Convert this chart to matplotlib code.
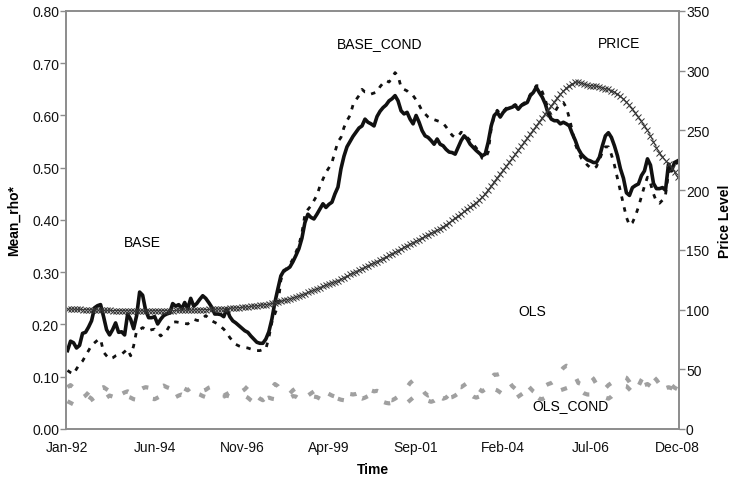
import matplotlib
matplotlib.use("Agg")
import matplotlib.pyplot as plt
import numpy as np

plt.rcParams['font.family'] = ['Liberation Sans', 'DejaVu Sans']

# monthly series, Jan-92 .. Dec-08
tick_labels = ["Jan-92", "Jun-94", "Nov-96", "Apr-99", "Sep-01", "Feb-04", "Jul-06", "Dec-08"]

base = [
    0.150, 0.168, 0.165, 0.155, 0.160, 0.183, 0.185, 0.195, 0.207, 0.232, 0.236, 0.238,
    0.215, 0.190, 0.180, 0.190, 0.203, 0.185, 0.186, 0.180, 0.220, 0.210, 0.192, 0.217,
    0.262, 0.256, 0.227, 0.213, 0.213, 0.215, 0.201, 0.210, 0.217, 0.220, 0.222, 0.240,
    0.235, 0.238, 0.230, 0.242, 0.230, 0.250, 0.235, 0.240, 0.248, 0.255, 0.250, 0.242,
    0.233, 0.220, 0.220, 0.219, 0.215, 0.230, 0.215, 0.207, 0.203, 0.198, 0.193, 0.188,
    0.185, 0.178, 0.172, 0.166, 0.164, 0.164, 0.172, 0.186, 0.210, 0.242, 0.268, 0.293,
    0.303, 0.306, 0.310, 0.320, 0.332, 0.345, 0.365, 0.395, 0.411, 0.405, 0.402, 0.411,
    0.421, 0.431, 0.424, 0.430, 0.434, 0.450, 0.463, 0.498, 0.522, 0.540, 0.550, 0.560,
    0.568, 0.576, 0.580, 0.593, 0.587, 0.584, 0.580, 0.598, 0.608, 0.615, 0.620, 0.628,
    0.632, 0.638, 0.628, 0.609, 0.603, 0.606, 0.593, 0.584, 0.600, 0.587, 0.571, 0.561,
    0.558, 0.552, 0.545, 0.555, 0.545, 0.542, 0.535, 0.530, 0.529, 0.526, 0.539, 0.552,
    0.561, 0.555, 0.545, 0.539, 0.533, 0.528, 0.523, 0.526, 0.549, 0.580, 0.600, 0.606,
    0.597, 0.606, 0.612, 0.614, 0.616, 0.619, 0.612, 0.619, 0.622, 0.625, 0.638, 0.644,
    0.654, 0.644, 0.635, 0.622, 0.603, 0.593, 0.590, 0.590, 0.584, 0.587, 0.584, 0.580,
    0.565, 0.552, 0.536, 0.526, 0.520, 0.515, 0.513, 0.510, 0.510, 0.520, 0.542, 0.561,
    0.567, 0.558, 0.542, 0.523, 0.498, 0.480, 0.452, 0.447, 0.462, 0.466, 0.469, 0.485,
    0.494, 0.517, 0.505, 0.470, 0.460, 0.460, 0.462, 0.457, 0.507, 0.494, 0.510, 0.513,
]

base_cond = [
    0.112, 0.108, 0.105, 0.115, 0.124, 0.130, 0.140, 0.150, 0.160, 0.165, 0.170, 0.172,
    0.147, 0.140, 0.134, 0.136, 0.140, 0.142, 0.143, 0.148, 0.153, 0.140, 0.159, 0.188,
    0.190, 0.194, 0.191, 0.188, 0.190, 0.191, 0.185, 0.178, 0.183, 0.188, 0.198, 0.204,
    0.205, 0.204, 0.203, 0.202, 0.201, 0.206, 0.210, 0.208, 0.207, 0.212, 0.217, 0.212,
    0.207, 0.204, 0.201, 0.196, 0.191, 0.184, 0.175, 0.168, 0.162, 0.159, 0.157, 0.156,
    0.155, 0.153, 0.152, 0.150, 0.150, 0.152, 0.153, 0.175, 0.204, 0.220, 0.236, 0.285,
    0.300, 0.308, 0.315, 0.325, 0.338, 0.352, 0.375, 0.410, 0.420, 0.427, 0.437, 0.447,
    0.465, 0.478, 0.491, 0.500, 0.510, 0.530, 0.550, 0.558, 0.577, 0.590, 0.600, 0.620,
    0.630, 0.638, 0.650, 0.645, 0.645, 0.641, 0.643, 0.645, 0.655, 0.662, 0.667, 0.664,
    0.672, 0.682, 0.676, 0.654, 0.650, 0.647, 0.641, 0.638, 0.630, 0.620, 0.609, 0.603,
    0.597, 0.593, 0.592, 0.590, 0.588, 0.585, 0.578, 0.570, 0.562, 0.558, 0.560, 0.568,
    0.565, 0.558, 0.552, 0.545, 0.538, 0.530, 0.518, 0.517, 0.530, 0.575, 0.600, 0.610,
    0.603, 0.608, 0.614, 0.616, 0.618, 0.621, 0.615, 0.620, 0.624, 0.628, 0.640, 0.647,
    0.657, 0.657, 0.645, 0.630, 0.610, 0.600, 0.605, 0.615, 0.622, 0.625, 0.615, 0.595,
    0.570, 0.545, 0.530, 0.518, 0.512, 0.505, 0.500, 0.498, 0.502, 0.515, 0.530, 0.540,
    0.540, 0.525, 0.505, 0.480, 0.455, 0.430, 0.405, 0.390, 0.395, 0.408, 0.425, 0.445,
    0.465, 0.482, 0.470, 0.450, 0.435, 0.432, 0.438, 0.448, 0.490, 0.500, 0.505, 0.510,
]

ols = [
    0.080, 0.084, 0.079, 0.072, 0.065, 0.060, 0.064, 0.070, 0.077, 0.081, 0.079, 0.078,
    0.080, 0.076, 0.072, 0.068, 0.066, 0.064, 0.067, 0.070, 0.072, 0.069, 0.066, 0.070,
    0.075, 0.078, 0.080, 0.079, 0.076, 0.074, 0.078, 0.081, 0.083, 0.080, 0.078, 0.077,
    0.075, 0.078, 0.080, 0.077, 0.074, 0.079, 0.082, 0.080, 0.076, 0.073, 0.075, 0.079,
    0.081, 0.077, 0.070, 0.066, 0.064, 0.067, 0.070, 0.066, 0.064, 0.068, 0.072, 0.076,
    0.082, 0.078, 0.070, 0.063, 0.058, 0.055, 0.060, 0.068, 0.078, 0.086, 0.082, 0.074,
    0.068, 0.064, 0.068, 0.074, 0.078, 0.076, 0.070, 0.066, 0.064, 0.068, 0.072, 0.075,
    0.077, 0.074, 0.070, 0.067, 0.064, 0.062, 0.061, 0.063, 0.064, 0.066, 0.067, 0.066,
    0.067, 0.069, 0.071, 0.074, 0.076, 0.074, 0.072, 0.073, 0.071, 0.066, 0.060, 0.056,
    0.055, 0.058, 0.062, 0.067, 0.072, 0.080, 0.088, 0.093, 0.090, 0.084, 0.076, 0.068,
    0.064, 0.066, 0.070, 0.067, 0.061, 0.058, 0.060, 0.066, 0.072, 0.078, 0.081, 0.080,
    0.084, 0.088, 0.090, 0.087, 0.082, 0.076, 0.072, 0.076, 0.086, 0.098, 0.104, 0.104,
    0.106, 0.104, 0.098, 0.090, 0.082, 0.077, 0.078, 0.082, 0.086, 0.084, 0.078, 0.072,
    0.068, 0.072, 0.078, 0.083, 0.086, 0.088, 0.092, 0.100, 0.110, 0.117, 0.121, 0.119,
    0.112, 0.100, 0.088, 0.086, 0.092, 0.100, 0.102, 0.096, 0.086, 0.076, 0.072, 0.078,
    0.084, 0.088, 0.090, 0.092, 0.096, 0.100, 0.098, 0.090, 0.080, 0.074, 0.082, 0.094,
    0.103, 0.106, 0.104, 0.100, 0.094, 0.086, 0.080, 0.082, 0.086, 0.084, 0.079, 0.076,
]

ols_cond = [
    0.053, 0.050, 0.047, 0.046, 0.048, 0.052, 0.058, 0.062, 0.058, 0.050, 0.045, 0.048,
    0.054, 0.060, 0.064, 0.062, 0.058, 0.055, 0.057, 0.060, 0.062, 0.060, 0.057, 0.056,
    0.058, 0.061, 0.062, 0.060, 0.058, 0.057, 0.060, 0.063, 0.066, 0.065, 0.062, 0.060,
    0.061, 0.064, 0.066, 0.064, 0.062, 0.063, 0.066, 0.068, 0.066, 0.063, 0.061, 0.062,
    0.064, 0.063, 0.061, 0.060, 0.062, 0.064, 0.062, 0.059, 0.057, 0.058, 0.061, 0.063,
    0.060, 0.055, 0.051, 0.049, 0.050, 0.054, 0.058, 0.060, 0.058, 0.057, 0.060, 0.062,
    0.060, 0.058, 0.060, 0.063, 0.062, 0.058, 0.055, 0.054, 0.057, 0.060, 0.062, 0.061,
    0.058, 0.056, 0.055, 0.057, 0.059, 0.060, 0.058, 0.056, 0.055, 0.057, 0.059, 0.060,
    0.061, 0.060, 0.058, 0.060, 0.063, 0.065, 0.064, 0.060, 0.056, 0.052, 0.050, 0.049,
    0.050, 0.052, 0.051, 0.049, 0.048, 0.050, 0.055, 0.060, 0.064, 0.066, 0.063, 0.058,
    0.054, 0.052, 0.054, 0.058, 0.062, 0.064, 0.062, 0.060, 0.061, 0.064, 0.068, 0.071,
    0.073, 0.070, 0.066, 0.062, 0.060, 0.062, 0.064, 0.066, 0.070, 0.074, 0.076, 0.074,
    0.070, 0.066, 0.062, 0.058, 0.056, 0.058, 0.062, 0.066, 0.070, 0.072, 0.070, 0.066,
    0.062, 0.058, 0.057, 0.060, 0.064, 0.068, 0.070, 0.072, 0.074, 0.076, 0.078, 0.080,
    0.082, 0.080, 0.076, 0.072, 0.068, 0.066, 0.066, 0.068, 0.070, 0.068, 0.064, 0.060,
    0.058, 0.062, 0.068, 0.074, 0.080, 0.083, 0.082, 0.076, 0.070, 0.068, 0.072, 0.078,
    0.084, 0.086, 0.082, 0.078, 0.074, 0.072, 0.074, 0.078, 0.080, 0.078, 0.075, 0.072,
]

price = [
    100.5, 100.4, 100.3, 100.2, 100.1, 100.0, 99.9, 99.8, 99.7, 99.7, 99.6, 99.5,
    99.4, 99.3, 99.3, 99.2, 99.2, 99.1, 99.1, 99.0, 99.0, 99.0, 98.9, 98.9,
    98.9, 98.9, 98.9, 98.9, 99.0, 99.0, 99.0, 99.0, 99.1, 99.1, 99.2, 99.2,
    99.3, 99.3, 99.4, 99.5, 99.5, 99.6, 99.7, 99.8, 99.8, 99.9, 100.0, 100.1,
    100.2, 100.3, 100.4, 100.5, 100.6, 100.8, 101.0, 101.2, 101.4, 101.6, 101.8, 102.0,
    102.3, 102.6, 102.9, 103.2, 103.5, 103.8, 104.2, 104.6, 105.1, 105.7, 106.3, 106.9,
    107.6, 108.3, 109.0, 109.8, 110.6, 111.4, 112.3, 113.2, 114.3, 115.3, 116.3, 117.3,
    118.4, 119.5, 120.6, 121.6, 122.6, 123.4, 124.2, 125.4, 126.7, 128.0, 129.4, 130.6,
    131.8, 133.0, 134.2, 135.4, 136.6, 137.8, 139.0, 140.2, 141.4, 142.7, 144.0, 145.3,
    146.6, 148.0, 149.4, 150.8, 152.1, 153.4, 154.7, 156.0, 157.3, 158.6, 159.9, 161.2,
    162.5, 163.8, 165.1, 166.4, 167.8, 169.4, 171.0, 172.8, 174.6, 176.4, 178.3, 180.2,
    182.1, 183.9, 185.8, 187.6, 189.6, 191.8, 194.2, 197.0, 200.2, 203.6, 207.0, 210.4,
    213.6, 216.8, 220.0, 223.2, 226.6, 230.0, 233.4, 236.8, 240.2, 243.6, 247.0, 250.4,
    253.8, 257.2, 260.6, 264.0, 267.4, 270.8, 274.0, 277.2, 280.2, 283.0, 285.6, 287.6,
    289.2, 290.2, 290.4, 289.8, 288.8, 288.0, 287.6, 287.3, 287.0, 286.6, 285.8, 284.9,
    284.5, 283.4, 282.0, 280.4, 278.6, 276.4, 273.8, 271.0, 268.0, 264.6, 261.0, 257.5,
    254.0, 250.0, 245.5, 240.5, 235.5, 231.5, 228.0, 224.8, 221.8, 218.8, 215.0, 210.7,
]

months = np.arange(len(base))
spine_grey = '#8c8c8c'

fig = plt.figure(figsize=(7.31, 4.89), dpi=100)
ax = fig.add_axes([0.0903, 0.1207, 0.8386, 0.8548])
ax2 = ax.twinx()

# gray OLS lines: short thick dashes with long gaps
ax.plot(months, ols, color='#a0a0a0', lw=3.0, dashes=(1.5, 4.0))
ax.plot(months, ols_cond, color='#a0a0a0', lw=3.0, dashes=(1.5, 4.5))
ax.plot(months, base_cond, color='#111111', lw=2.0, dashes=(1.6, 2.4))
ax.plot(months, base, color='#111111', lw=2.6, solid_joinstyle='round')

ax2.plot(months, price, color='#444444', lw=0.7, marker='x', markersize=4.5,
         markeredgewidth=0.7, markeredgecolor='#333333')

ax.set_xlim(-0.5, len(base) - 0.5)
ax.set_ylim(0, 0.80)
ax2.set_ylim(0, 350)

ax.set_xticks(np.arange(0, len(base), 29))
ax.set_xticklabels(tick_labels)
ax.set_yticks(np.arange(0, 0.81, 0.1))
ax.set_yticklabels(['%.2f' % v for v in np.arange(0, 0.81, 0.1)])
ax2.set_yticks(np.arange(0, 351, 50))

ax.tick_params(axis='x', length=0, pad=8, labelsize=10, colors='#111111')
ax.tick_params(axis='y', length=4, width=1, color=spine_grey, labelsize=10,
               labelcolor='#111111', pad=1)
ax2.tick_params(axis='y', length=4, width=1, color=spine_grey, labelsize=10,
                labelcolor='#111111', pad=1)

for a in (ax, ax2):
    for s in a.spines.values():
        s.set_color(spine_grey)
        s.set_linewidth(1.2)

ax.set_xlabel('Time', fontsize=10, fontweight='bold', labelpad=6)
ax.set_ylabel('Mean_rho*', fontsize=10, fontweight='bold', labelpad=8)
ax2.set_ylabel('Price Level', fontsize=10, fontweight='bold', labelpad=6)

ax.text(24.8, 0.358, 'BASE', fontsize=10, ha='center', va='center')
ax.text(104, 0.739, 'BASE_COND', fontsize=10, ha='center', va='center')
ax.text(183.5, 0.739, 'PRICE', fontsize=10, ha='center', va='center')
ax.text(154.8, 0.226, 'OLS', fontsize=10, ha='center', va='center')
ax.text(167.5, 0.046, 'OLS_COND', fontsize=10, ha='center', va='center')

fig.savefig('out.png', dpi=100)
